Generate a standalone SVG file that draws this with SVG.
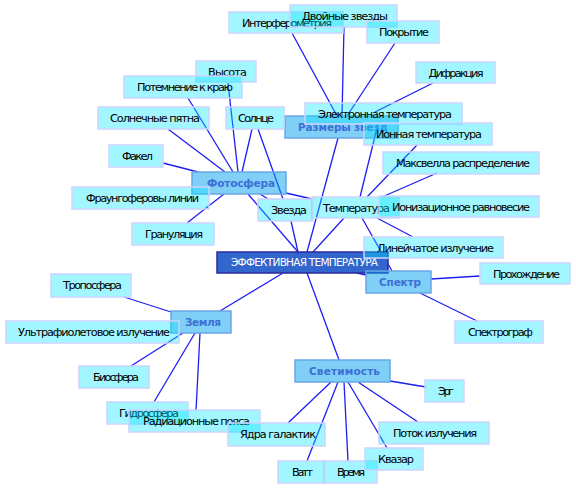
<svg xmlns="http://www.w3.org/2000/svg" width="576" height="489" viewBox="0 0 576 489">
<style>
.leaf rect{fill:#00e6ff;fill-opacity:0.37;stroke:#cad4ff;stroke-width:1.5}
.leaf text{font-family:"DejaVu Sans",Verdana,sans-serif;font-size:11.3px;fill:#000;text-anchor:middle}
.hub rect{fill:#00a0f0;fill-opacity:0.5;stroke:#6aa6e6;stroke-width:1.5}
.hub text{font-family:"DejaVu Sans",Verdana,sans-serif;font-size:10.5px;font-weight:bold;fill:#3d6fd6;text-anchor:middle}
.root rect{fill:#3366cc;stroke:#2a2a9e;stroke-width:1.5}
.root text{font-family:"DejaVu Sans",Verdana,sans-serif;font-size:10.5px;fill:#fff;text-anchor:middle}
#edges line{stroke:#1f1ff5;stroke-width:1.3}
</style>
<rect width="576" height="489" fill="#fff"/>
<g id="edges">
<line x1="188" y1="98" x2="233" y2="172"/>
<line x1="168" y1="129" x2="225" y2="172"/>
<line x1="163" y1="163" x2="198" y2="172"/>
<line x1="228" y1="83" x2="238" y2="172"/>
<line x1="252" y1="129" x2="242" y2="172"/>
<line x1="258" y1="129" x2="283" y2="199"/>
<line x1="187" y1="223" x2="224" y2="194"/>
<line x1="260" y1="194" x2="268" y2="199"/>
<line x1="248" y1="194" x2="298" y2="252"/>
<line x1="286" y1="193" x2="312" y2="199"/>
<line x1="291" y1="221" x2="298" y2="252"/>
<line x1="338" y1="138" x2="307" y2="252"/>
<line x1="344" y1="218" x2="313" y2="252"/>
<line x1="292" y1="33" x2="337" y2="116"/>
<line x1="344" y1="27" x2="342" y2="116"/>
<line x1="395" y1="43" x2="347" y2="116"/>
<line x1="433" y1="83" x2="375" y2="112"/>
<line x1="360" y1="197" x2="378" y2="124"/>
<line x1="417" y1="145" x2="367" y2="197"/>
<line x1="437" y1="173" x2="382" y2="197"/>
<line x1="377" y1="218" x2="413" y2="237"/>
<line x1="362" y1="218" x2="392" y2="271"/>
<line x1="431" y1="279" x2="480" y2="276"/>
<line x1="420" y1="293" x2="477" y2="321"/>
<line x1="357" y1="273" x2="366" y2="275"/>
<line x1="339" y1="360" x2="307" y2="273"/>
<line x1="390" y1="381" x2="426" y2="387"/>
<line x1="358" y1="382" x2="418" y2="422"/>
<line x1="348" y1="382" x2="387" y2="448"/>
<line x1="344" y1="382" x2="348" y2="461"/>
<line x1="338" y1="382" x2="307" y2="461"/>
<line x1="331" y1="382" x2="288" y2="423"/>
<line x1="220" y1="311" x2="283" y2="273"/>
<line x1="124" y1="297" x2="171" y2="312"/>
<line x1="131" y1="366" x2="183" y2="333"/>
<line x1="154" y1="402" x2="195" y2="333"/>
<line x1="196" y1="411" x2="200" y2="333"/>
</g>
<g id="n-center" class="root"><rect x="217" y="252" width="171" height="21"/><text x="304.5" y="266" textLength="147">ЭФФЕКТИВНАЯ ТЕМПЕРАТУРА</text></g>
<g id="n-fotosfera" class="hub"><rect x="192" y="172" width="94" height="22"/><text x="241" y="187" textLength="68">Фотосфера</text></g>
<g id="n-razmery" class="hub"><rect x="285" y="116" width="113" height="22"/><text x="343" y="131" textLength="90">Размеры звезд</text></g>
<g id="n-zemlya" class="hub"><rect x="171" y="311" width="60" height="22"/><text x="203" y="326" textLength="36">Земля</text></g>
<g id="n-spektr" class="hub"><rect x="366" y="271" width="65" height="22"/><text x="400" y="286" textLength="42">Спектр</text></g>
<g id="n-svetimost" class="hub"><rect x="295" y="360" width="95" height="22"/><text x="344.5" y="375" textLength="71">Светимость</text></g>
<g id="n-interf" class="leaf"><rect x="229" y="12" width="114" height="21"/><text x="287" y="26.5" textLength="90">Интерферометрия</text></g>
<g id="n-dvoinye" class="leaf"><rect x="290" y="5" width="107" height="22"/><text x="345" y="20" textLength="86">Двойные звезды</text></g>
<g id="n-pokrytie" class="leaf"><rect x="367" y="21" width="72" height="22"/><text x="404" y="36" textLength="50">Покрытие</text></g>
<g id="n-difrakciya" class="leaf"><rect x="416" y="62" width="79" height="21"/><text x="456" y="76.5" textLength="55">Дифракция</text></g>
<g id="n-elektr" class="leaf"><rect x="305" y="103" width="157" height="21"/><text x="385" y="117.5" textLength="134">Электронная температура</text></g>
<g id="n-ionnaya" class="leaf"><rect x="364" y="123" width="128" height="22"/><text x="429" y="138" textLength="106">Ионная температура</text></g>
<g id="n-maksvell" class="leaf"><rect x="383" y="152" width="156" height="22"/><text x="463" y="167" textLength="134">Максвелла распределение</text></g>
<g id="n-temperatura" class="leaf"><rect x="312" y="197" width="87" height="21"/><text x="356.5" y="211.5" textLength="67">Температура</text></g>
<g id="n-ioniz" class="leaf"><rect x="379" y="196" width="160" height="21"/><text x="461" y="210.5" textLength="138">Ионизационное равновесие</text></g>
<g id="n-zvezda" class="leaf"><rect x="258" y="199" width="55" height="22"/><text x="289" y="214" textLength="36">Звезда</text></g>
<g id="n-lineich" class="leaf"><rect x="364" y="237" width="139" height="21"/><text x="435.5" y="251.5" textLength="117">Линейчатое излучение</text></g>
<g id="n-prohozhd" class="leaf"><rect x="480" y="263" width="90" height="21"/><text x="526.5" y="277.5" textLength="67">Прохождение</text></g>
<g id="n-spektrograf" class="leaf"><rect x="455" y="321" width="88" height="22"/><text x="500.5" y="336" textLength="65">Спектрограф</text></g>
<g id="n-erg" class="leaf"><rect x="425" y="380" width="39" height="22"/><text x="446" y="395" textLength="16">Эрг</text></g>
<g id="n-potok" class="leaf"><rect x="379" y="422" width="110" height="22"/><text x="435" y="437" textLength="84">Поток излучения</text></g>
<g id="n-vremya" class="leaf"><rect x="324" y="461" width="53" height="22"/><text x="351" y="476" textLength="28">Время</text></g>
<g id="n-kvazar" class="leaf"><rect x="365" y="448" width="58" height="22"/><text x="396" y="463" textLength="36">Квазар</text></g>
<g id="n-vatt" class="leaf"><rect x="278" y="461" width="47" height="22"/><text x="302.5" y="476" textLength="21">Ватт</text></g>
<g id="n-gidrosfera" class="leaf"><rect x="107" y="402" width="81" height="22"/><text x="149" y="417" textLength="60">Гидросфера</text></g>
<g id="n-radiac" class="leaf"><rect x="129" y="410" width="131" height="22"/><text x="196.5" y="425" textLength="107">Радиационные пояса</text></g>
<g id="n-yadra" class="leaf"><rect x="228" y="423" width="97" height="23"/><text x="278" y="438" textLength="76">Ядра галактик</text></g>
<g id="n-biosfera" class="leaf"><rect x="79" y="366" width="70" height="22"/><text x="116" y="381" textLength="46">Биосфера</text></g>
<g id="n-ultra" class="leaf"><rect x="6" y="321" width="173" height="22"/><text x="94" y="336" textLength="152">Ультрафиолетовое излучение</text></g>
<g id="n-troposfera" class="leaf"><rect x="51" y="274" width="80" height="23"/><text x="92.5" y="289" textLength="59">Тропосфера</text></g>
<g id="n-granul" class="leaf"><rect x="132" y="223" width="82" height="22"/><text x="174" y="238" textLength="58">Грануляция</text></g>
<g id="n-fraun" class="leaf"><rect x="72" y="187" width="137" height="22"/><text x="142.5" y="202" textLength="113">Фраунгоферовы линии</text></g>
<g id="n-fakel" class="leaf"><rect x="109" y="145" width="54" height="22"/><text x="137.5" y="160" textLength="31">Факел</text></g>
<g id="n-pyatna" class="leaf"><rect x="98" y="107" width="111" height="22"/><text x="155" y="122" textLength="90">Солнечные пятна</text></g>
<g id="n-solnce" class="leaf"><rect x="226" y="107" width="58" height="22"/><text x="256" y="122" textLength="36">Солнце</text></g>
<g id="n-vysota" class="leaf"><rect x="196" y="61" width="60" height="21"/><text x="227.5" y="75.5" textLength="39">Высота</text></g>
<g id="n-potemnenie" class="leaf"><rect x="124" y="76" width="118" height="22"/><text x="185" y="91" textLength="96">Потемнение к краю</text></g>
</svg>
